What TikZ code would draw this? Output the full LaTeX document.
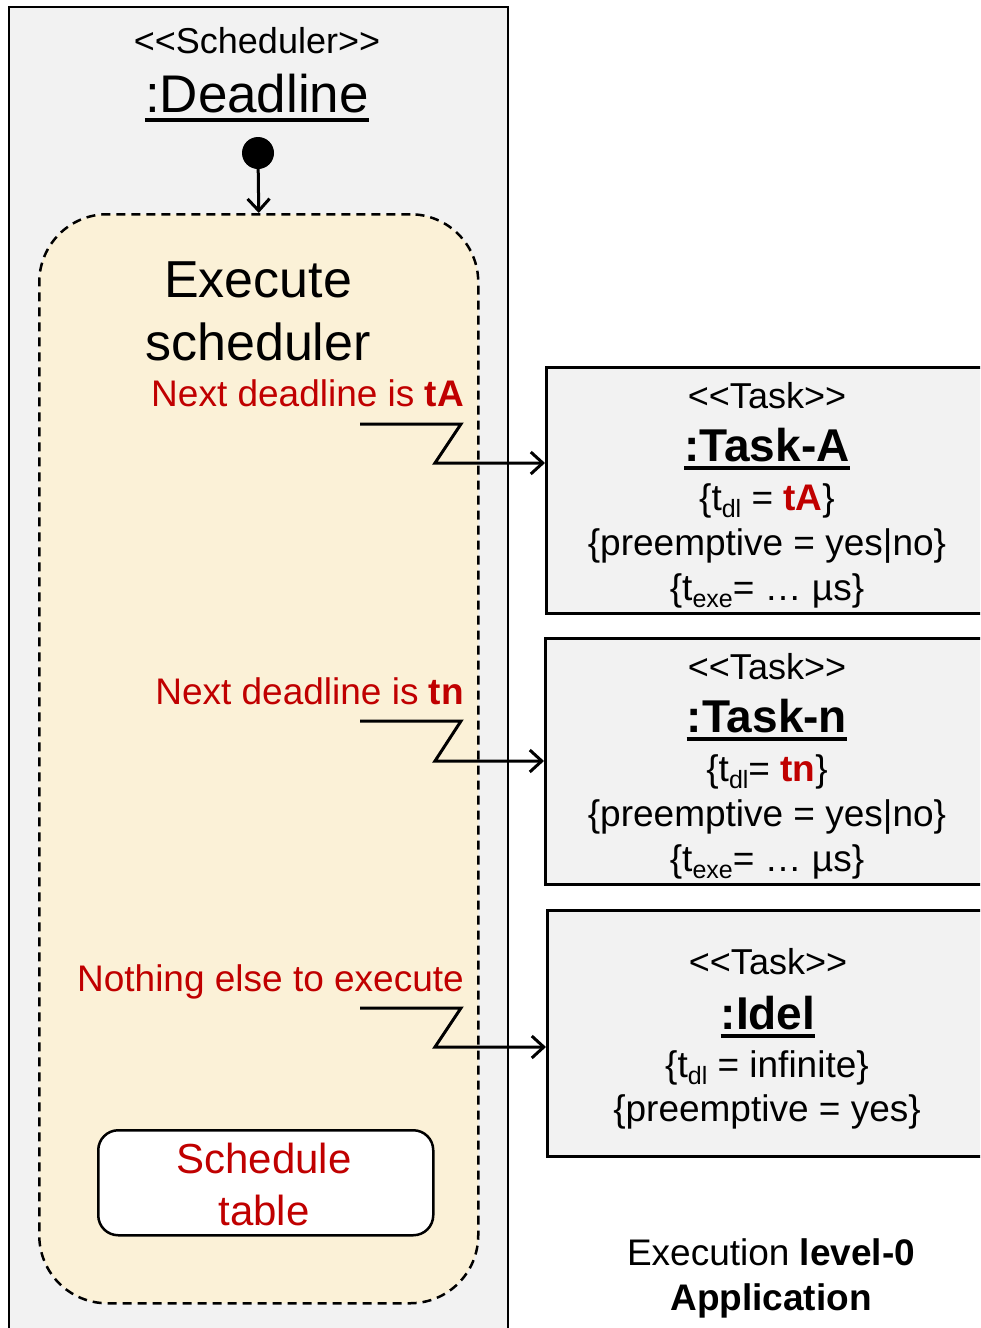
\documentclass[tikz,border=0pt]{standalone}
\usepackage{fontspec}
\setmainfont{Liberation Sans}[Ligatures=TeXOff]
\usetikzlibrary{arrows.meta}
\definecolor{boxgray}{HTML}{F2F2F2}
\definecolor{cream}{HTML}{FBF1D7}
\definecolor{darkred}{HTML}{C00000}
\newcommand\fs[1]{\fontsize{#1}{#1}\selectfont}
\newcommand\dsub[1]{\raisebox{-7pt}{\fs{25}#1}}
\begin{document}
\begin{tikzpicture}[x=1pt,y=-1pt,
  txt/.style={inner sep=0pt, anchor=base},
  body/.style={txt, font=\fs{37}},
  redlbl/.style={txt, anchor=base east, text=darkred, font=\fs{37}},
  taskbox/.style={draw=black, fill=boxgray, line width=2.5pt, anchor=north west, inner sep=0pt, minimum width=460pt, minimum height=246pt},
  conn/.style={draw=black, line width=3pt, -{Straight Barb[length=12pt,width=22pt]}},
  uline/.style={line width=4pt}]
\useasboundingbox (0,0) rectangle (980,1328);
\begin{scope}
\clip (0,0) rectangle (980,1328);
% scheduler container
\node[draw=black, fill=boxgray, line width=2.2pt, anchor=north west, inner sep=0pt, minimum width=499pt, minimum height=1360pt] (sched) at (8,6) {};
\node[body, font=\fs{36}] (stereo) at (257,53) {<<Scheduler>>};
\node[txt, font=\fs{53}] (dl) at (257,112) {:Deadline};
\draw[line width=3.2pt] ([yshift=-8pt]dl.base west) -- ([yshift=-8pt]dl.base east);
% state
\node[draw=black, fill=cream, line width=2.5pt, dash pattern=on 9pt off 6pt, rounded corners=68pt, anchor=north west, inner sep=0pt, minimum width=439pt, minimum height=1089pt] (exec) at (38,213) {};
\node[circle, fill=black, inner sep=0pt, minimum size=32pt] (init) at (258,153) {};
\draw[conn] (init) -- (exec.north);
\node[txt, font=\fs{52}] (ex1) at (258,297) {Execute};
\node[txt, font=\fs{52}] (ex2) at (258,360) {scheduler};
% labels
\node[redlbl] (lblA) at (464,406) {Next deadline is \textbf{tA}};
\node[redlbl] (lblN) at (464,704) {Next deadline is \textbf{tn}};
\node[redlbl] (lblI) at (464,991) {Nothing else to execute};
% schedule table
\node[draw=black, fill=white, line width=2.5pt, rounded corners=20pt, anchor=north west, inner sep=0pt, minimum width=335pt, minimum height=105pt] (table) at (97,1129) {};
\node[txt, text=darkred, font=\fs{42}] (tab1) at (264,1173) {Schedule};
\node[txt, text=darkred, font=\fs{42}] (tab2) at (264,1225) {table};
% task boxes
\node[taskbox] (taskA) at (545,366) {};
\node[taskbox] (taskN) at (544,637) {};
\node[taskbox] (taskI) at (546,909) {};
% Task-A text
\node[body, font=\fs{36}] (a1) at (767,408) {<<Task>>};
\node[txt, font=\fs{46}\bfseries] (a2) at (767,461) {:Task-A};
\draw[uline] ([yshift=-7pt]a2.base west) -- ([yshift=-7pt]a2.base east);
\node[body] (a3) at (767,510) {\{t\dsub{dl} = \textcolor{darkred}{\textbf{tA}}\}};
\node[body] (a4) at (767,555) {\{preemptive = yes|no\}};
\node[body] (a5) at (767,600) {\{t\dsub{exe}= … µs\}};
% Task-n text
\node[body, font=\fs{36}] (n1) at (767,679) {<<Task>>};
\node[txt, font=\fs{46}\bfseries] (n2) at (767,732) {:Task-n};
\draw[uline] ([yshift=-7pt]n2.base west) -- ([yshift=-7pt]n2.base east);
\node[body] (n3) at (767,781) {\{t\dsub{dl}= \textcolor{darkred}{\textbf{tn}}\}};
\node[body] (n4) at (767,826) {\{preemptive = yes|no\}};
\node[body] (n5) at (767,871) {\{t\dsub{exe}= … µs\}};
% Idel text
\node[body, font=\fs{36}] (i1) at (768,974) {<<Task>>};
\node[txt, font=\fs{46}\bfseries] (i2) at (768,1029) {:Idel};
\draw[uline] ([yshift=-7pt]i2.base west) -- ([yshift=-7pt]i2.base east);
\node[body] (i3) at (767,1077) {\{t\dsub{dl} = infinite\}};
\node[body] (i4) at (767,1121) {\{preemptive = yes\}};
% caption
\node[body] (cap1) at (771,1265) {Execution \textbf{level-0}};
\node[body] (cap2) at (771,1310) {\textbf{Application}};
% lightning connectors
\coordinate (sA) at (360,424); \coordinate (yA) at (0,463);
\coordinate (sN) at (360,721); \coordinate (yN) at (0,761);
\coordinate (sI) at (360,1008); \coordinate (yI) at (0,1047);
\draw[conn] (sA) -- ++(101,0) -- ++(-26,39) -- (taskA.west |- yA);
\draw[conn] (sN) -- ++(101,0) -- ++(-26,40) -- (taskN.west |- yN);
\draw[conn] (sI) -- ++(101,0) -- ++(-26,39) -- (taskI.west |- yI);
\end{scope}
\end{tikzpicture}
\end{document}
